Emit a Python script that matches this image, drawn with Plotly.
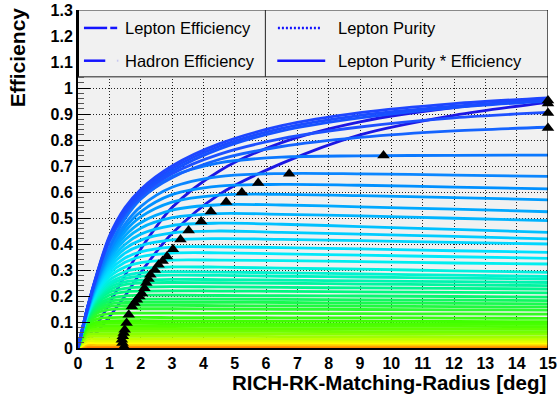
import plotly.graph_objects as go

# ---------------- data ----------------
X_PTS = [0, 0.3, 0.6, 1, 1.5, 2, 3, 4.5, 6.5, 9, 12, 15]

# dark-blue efficiency curves
efficiency_curves = [
    [0, 0.04, 0.09, 0.17, 0.28, 0.38, 0.54, 0.68, 0.79, 0.87, 0.925, 0.955],
    [0, 0.03, 0.06, 0.12, 0.20, 0.29, 0.44, 0.59, 0.71, 0.82, 0.895, 0.945],
]
efficiency_color = "#1c16e4"

# upper (still rising) blue curves
upper_curves = [
    [0, 0.152, 0.276, 0.41, 0.51, 0.575, 0.655, 0.725, 0.775, 0.81, 0.835, 0.849],
    [0, 0.153, 0.278, 0.415, 0.52, 0.585, 0.67, 0.745, 0.805, 0.85, 0.885, 0.906],
    [0, 0.154, 0.28, 0.42, 0.525, 0.595, 0.68, 0.765, 0.835, 0.885, 0.925, 0.95],
    [0, 0.154, 0.282, 0.425, 0.533, 0.60, 0.69, 0.775, 0.845, 0.895, 0.93, 0.955],
    [0, 0.155, 0.285, 0.43, 0.54, 0.61, 0.70, 0.785, 0.855, 0.905, 0.94, 0.962],
]
upper_colors = ["#1464ff", "#1e50ff", "#1652ff", "#1a4cff", "#1e46ff"]

# plateau family (top to bottom)
plateau_curves = [
    [0, 0.148, 0.266, 0.387, 0.497, 0.572, 0.659, 0.712, 0.734, 0.739, 0.741, 0.742],
    [0, 0.146, 0.261, 0.376, 0.477, 0.544, 0.618, 0.659, 0.671, 0.670, 0.665, 0.660],
    [0, 0.145, 0.258, 0.369, 0.463, 0.524, 0.590, 0.623, 0.629, 0.626, 0.619, 0.612],
    [0, 0.144, 0.253, 0.359, 0.448, 0.504, 0.561, 0.588, 0.591, 0.586, 0.578, 0.570],
    [0, 0.142, 0.249, 0.350, 0.432, 0.482, 0.530, 0.551, 0.550, 0.543, 0.534, 0.524],
    [0, 0.141, 0.244, 0.340, 0.416, 0.461, 0.501, 0.517, 0.514, 0.508, 0.499, 0.490],
    [0, 0.140, 0.240, 0.330, 0.398, 0.438, 0.471, 0.480, 0.476, 0.467, 0.456, 0.445],
    [0, 0.138, 0.234, 0.320, 0.382, 0.415, 0.443, 0.450, 0.445, 0.438, 0.429, 0.420],
    [0, 0.136, 0.230, 0.309, 0.365, 0.394, 0.416, 0.421, 0.418, 0.413, 0.406, 0.400],
    [0, 0.134, 0.224, 0.297, 0.346, 0.370, 0.388, 0.389, 0.386, 0.381, 0.374, 0.368],
    [0, 0.133, 0.218, 0.286, 0.330, 0.351, 0.365, 0.366, 0.362, 0.357, 0.351, 0.345],
    [0, 0.131, 0.212, 0.274, 0.311, 0.328, 0.338, 0.338, 0.336, 0.332, 0.327, 0.323],
    [0, 0.128, 0.205, 0.261, 0.293, 0.306, 0.312, 0.311, 0.307, 0.303, 0.297, 0.291],
    [0, 0.126, 0.199, 0.250, 0.278, 0.289, 0.294, 0.292, 0.289, 0.285, 0.280, 0.275],
    [0, 0.125, 0.195, 0.242, 0.267, 0.276, 0.280, 0.279, 0.276, 0.273, 0.269, 0.265],
    [0, 0.123, 0.189, 0.233, 0.254, 0.261, 0.264, 0.263, 0.261, 0.258, 0.255, 0.252],
    [0, 0.121, 0.184, 0.224, 0.244, 0.250, 0.252, 0.251, 0.249, 0.246, 0.243, 0.240],
    [0, 0.119, 0.178, 0.214, 0.229, 0.234, 0.236, 0.235, 0.233, 0.231, 0.229, 0.227],
    [0, 0.116, 0.171, 0.203, 0.216, 0.219, 0.220, 0.219, 0.218, 0.216, 0.214, 0.212],
    [0, 0.113, 0.164, 0.190, 0.200, 0.203, 0.203, 0.202, 0.201, 0.200, 0.198, 0.196],
    [0, 0.110, 0.156, 0.179, 0.187, 0.188, 0.188, 0.188, 0.187, 0.185, 0.184, 0.182],
    [0, 0.107, 0.150, 0.169, 0.175, 0.176, 0.176, 0.176, 0.175, 0.173, 0.172, 0.170],
    [0, 0.104, 0.142, 0.159, 0.163, 0.164, 0.164, 0.163, 0.162, 0.161, 0.159, 0.158],
    [0, 0.100, 0.134, 0.148, 0.151, 0.151, 0.151, 0.150, 0.149, 0.148, 0.147, 0.146],
    [0, 0.095, 0.123, 0.132, 0.134, 0.134, 0.134, 0.133, 0.133, 0.132, 0.131, 0.130],
    [0, 0.089, 0.111, 0.117, 0.118, 0.118, 0.117, 0.117, 0.116, 0.116, 0.115, 0.114],
    [0, 0.083, 0.100, 0.104, 0.105, 0.105, 0.104, 0.104, 0.103, 0.103, 0.102, 0.101],
    [0, 0.078, 0.092, 0.095, 0.095, 0.095, 0.094, 0.094, 0.093, 0.093, 0.092, 0.091],
    [0, 0.073, 0.083, 0.085, 0.085, 0.085, 0.084, 0.084, 0.084, 0.083, 0.083, 0.082],
    [0, 0.067, 0.074, 0.075, 0.075, 0.075, 0.075, 0.074, 0.074, 0.073, 0.073, 0.072],
    [0, 0.060, 0.065, 0.065, 0.065, 0.065, 0.065, 0.064, 0.064, 0.063, 0.063, 0.062],
    [0, 0.052, 0.055, 0.055, 0.055, 0.055, 0.055, 0.054, 0.054, 0.054, 0.053, 0.053],
    [0, 0.044, 0.045, 0.045, 0.045, 0.045, 0.045, 0.045, 0.044, 0.044, 0.043, 0.043],
    [0, 0.035, 0.035, 0.035, 0.035, 0.035, 0.035, 0.035, 0.035, 0.034, 0.034, 0.034],
    [0, 0.027, 0.027, 0.027, 0.027, 0.027, 0.027, 0.027, 0.027, 0.026, 0.026, 0.026],
    [0, 0.020, 0.020, 0.020, 0.020, 0.020, 0.020, 0.020, 0.020, 0.019, 0.019, 0.019],
    [0, 0.013, 0.013, 0.013, 0.013, 0.013, 0.013, 0.013, 0.013, 0.012, 0.012, 0.012],
    [0, 0.007, 0.007, 0.007, 0.007, 0.007, 0.007, 0.007, 0.007, 0.006, 0.006, 0.006],
    [0, 0.003, 0.003, 0.003, 0.003, 0.003, 0.003, 0.003, 0.003, 0.002, 0.002, 0.002],
]
plateau_colors = [
    "#0a78ff", "#0a86ff", "#0090ff", "#009cff", "#00a8ff", "#00b4ff", "#00c0ff",
    "#00ccff", "#00d6ff", "#00e0ff", "#00e8fa", "#00eef0", "#00f0e0", "#00f2d0",
    "#00f4c0", "#00f4b0", "#00f5a0", "#00f690", "#00f880", "#08f870", "#10f860",
    "#18fa50", "#20fa40", "#28fc30", "#30fc20", "#38ff10", "#40ff00", "#48ff00",
    "#50ff00", "#60ff00", "#70ff00", "#88ff00", "#a0ff00", "#c0ff00", "#e0ff00",
    "#ffff00", "#ffc800", "#ff9600", "#ff6400",
]

# black triangle markers
marker_x = [1.47, 1.42, 1.40, 1.43, 1.46, 1.49, 1.55, 1.62, 1.72, 1.80, 1.88, 1.96,
            2.04, 2.12, 2.18, 2.25, 2.31, 2.45, 2.57, 2.70, 2.84, 3.03, 3.27, 3.53,
            3.93, 4.24, 4.73, 5.23, 5.75, 6.74, 9.75, 15, 15, 15, 15]
marker_y = [0.005, 0.019, 0.032, 0.045, 0.058, 0.07, 0.096, 0.128, 0.16, 0.173, 0.186,
            0.198, 0.21, 0.23, 0.25, 0.265, 0.282, 0.30, 0.32, 0.335, 0.352, 0.38,
            0.417, 0.452, 0.487, 0.525, 0.562, 0.598, 0.635, 0.67, 0.74, 0.846, 0.904,
            0.94, 0.952]

y_tick_vals = [0, 0.1, 0.2, 0.3, 0.4, 0.5, 0.6, 0.7, 0.8, 0.9, 1.0, 1.1, 1.2, 1.3]
y_tick_text = ["0", "0.1", "0.2", "0.3", "0.4", "0.5", "0.6", "0.7", "0.8", "0.9",
               "1", "1.1", "1.2", "1.3"]
x_tick_vals = list(range(0, 16))

legend_labels = ["Lepton Efficiency", "Hadron Efficiency", "Lepton Purity",
                 "Lepton Purity * Efficiency"]
legend_color = "#1414ff"

# ---------------- figure ----------------
FONT = "Liberation Sans, Arial, Helvetica, sans-serif"
fig = go.Figure()

LINE = dict(width=2.8, shape="spline", smoothing=0.9)

for ys in efficiency_curves:
    fig.add_trace(go.Scatter(x=X_PTS, y=ys, mode="lines",
                             line=dict(color=efficiency_color, **LINE),
                             hoverinfo="skip", showlegend=False))

for ys, col in zip(reversed(plateau_curves), reversed(plateau_colors)):
    fig.add_trace(go.Scatter(x=X_PTS, y=ys, mode="lines",
                             line=dict(color=col, **LINE),
                             hoverinfo="skip", showlegend=False))

for ys, col in zip(upper_curves, upper_colors):
    fig.add_trace(go.Scatter(x=X_PTS, y=ys, mode="lines",
                             line=dict(color=col, **LINE),
                             hoverinfo="skip", showlegend=False))

fig.add_trace(go.Scatter(x=marker_x, y=marker_y, mode="markers",
                         marker=dict(symbol="triangle-up", size=11, color="black"),
                         cliponaxis=False, hoverinfo="skip", showlegend=False))

# legend box (drawn as shapes inside the frame)
LEG_Y0, LEG_Y1 = 1.043, 1.3
ROW1, ROW2 = 1.231, 1.105
shapes = [
    dict(type="rect", xref="x", yref="y", x0=0, x1=15, y0=LEG_Y0, y1=LEG_Y1,
         fillcolor="#f1f1f1", line=dict(width=0), layer="above"),
    dict(type="line", xref="x", yref="y", x0=0, x1=15, y0=LEG_Y0, y1=LEG_Y0,
         line=dict(color="#666666", width=1.5), layer="above"),
    dict(type="line", xref="x", yref="y", x0=5.98, x1=5.98, y0=LEG_Y0, y1=LEG_Y1,
         line=dict(color="#222222", width=1), layer="above"),
    # samples
    dict(type="line", xref="x", yref="y", x0=0.19, x1=0.93, y0=ROW1, y1=ROW1,
         line=dict(color=legend_color, width=2.5), layer="above"),
    dict(type="line", xref="x", yref="y", x0=1.03, x1=1.25, y0=ROW1, y1=ROW1,
         line=dict(color=legend_color, width=2.5), layer="above"),
    dict(type="line", xref="x", yref="y", x0=0.19, x1=0.87, y0=ROW2, y1=ROW2,
         line=dict(color=legend_color, width=2.5), layer="above"),
    dict(type="line", xref="x", yref="y", x0=1.24, x1=1.29, y0=ROW2, y1=ROW2,
         line=dict(color="#c8c8f0", width=2), layer="above"),
    dict(type="line", xref="x", yref="y", x0=6.38, x1=7.75, y0=ROW1, y1=ROW1,
         line=dict(color=legend_color, width=2.5, dash="2px,2px"), layer="above"),
    dict(type="line", xref="x", yref="y", x0=6.36, x1=7.89, y0=ROW2, y1=ROW2,
         line=dict(color=legend_color, width=2.5), layer="above"),
    # frame
    dict(type="line", xref="x", yref="y", x0=0, x1=15, y0=1.3, y1=1.3,
         line=dict(color="#222222", width=1), layer="above"),
    dict(type="line", xref="x", yref="y", x0=15, x1=15, y0=0, y1=1.3,
         line=dict(color="black", width=1.2), layer="above"),
    dict(type="line", xref="x", yref="y", x0=0, x1=0, y0=LEG_Y0, y1=1.3,
         line=dict(color="black", width=2), layer="above"),
]

annotations = [
    dict(xref="x", yref="y", x=1.44, y=ROW1, text=legend_labels[0], showarrow=False,
         xanchor="left", yanchor="middle", font=dict(family=FONT, size=16.5, color="black")),
    dict(xref="x", yref="y", x=1.44, y=ROW2, text=legend_labels[1], showarrow=False,
         xanchor="left", yanchor="middle", font=dict(family=FONT, size=16.5, color="black")),
    dict(xref="x", yref="y", x=8.24, y=ROW1, text=legend_labels[2], showarrow=False,
         xanchor="left", yanchor="middle", font=dict(family=FONT, size=16.5, color="black")),
    dict(xref="x", yref="y", x=8.24, y=ROW2, text=legend_labels[3], showarrow=False,
         xanchor="left", yanchor="middle", font=dict(family=FONT, size=16.5, color="black")),
    dict(xref="paper", yref="paper", x=-0.13, y=0.86, text="Efficiency", textangle=-90,
         showarrow=False, xanchor="center", yanchor="middle",
         font=dict(family=FONT, size=21, color="black", weight="bold")),
    dict(xref="paper", yref="paper", x=1.0, y=-0.102, text="RICH-RK-Matching-Radius [deg]",
         showarrow=False, xanchor="right", yanchor="middle",
         font=dict(family=FONT, size=20.5, color="black", weight="bold")),
]

fig.update_layout(
    width=558, height=396,
    margin=dict(l=78, r=10, t=10, b=48, autoexpand=False),
    paper_bgcolor="white", plot_bgcolor="#f1f1f1",
    showlegend=False,
    shapes=shapes, annotations=annotations,
    xaxis=dict(range=[0, 15], tickvals=x_tick_vals, ticks="", showgrid=True,
               automargin=False,
               gridcolor="#222222", gridwidth=1, griddash="1px,2px",
               showline=True, linecolor="black", linewidth=2, zeroline=False,
               tickfont=dict(family=FONT, size=16, color="black", weight="bold")),
    yaxis=dict(range=[0, 1.3], tickvals=y_tick_vals, ticktext=y_tick_text,
               automargin=False,
               ticks="inside", ticklen=12, tickcolor="black", tickwidth=1,
               minor=dict(ticks="inside", ticklen=6, dtick=0.02, tick0=0,
                          tickcolor="#555555", showgrid=False),
               showgrid=True, gridcolor="#222222", gridwidth=1, griddash="1px,2px",
               showline=True, linecolor="black", linewidth=2, zeroline=False,
               tickfont=dict(family=FONT, size=16, color="black", weight="bold")),
)

fig.write_html("out.html",
               config={"displayModeBar": False, "staticPlot": True},
               post_script="document.body.style.margin='0';document.body.style.overflow='hidden';")
